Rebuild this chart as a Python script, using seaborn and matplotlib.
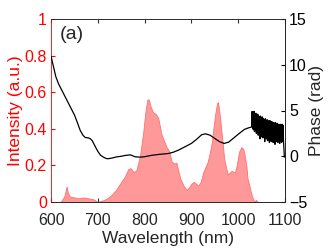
import numpy as np
import matplotlib
matplotlib.use("Agg")
import matplotlib.pyplot as plt
import seaborn as sns

# intensity spectrum (red area, left axis)
int_wl = [600, 620, 623, 628, 631, 633, 636, 640, 650, 660, 670, 680, 690, 697, 700,
          705, 712, 720, 730, 740, 750, 758, 765, 770, 776, 782, 790, 797, 802, 806,
          809, 813, 818, 824, 829, 836, 842, 847, 852, 858, 864, 868, 872, 876, 883,
          890, 895, 900, 905, 910, 915, 920, 925, 930, 935, 940, 944, 947, 951, 955,
          957, 960, 963, 967, 970, 974, 978, 982, 986, 990, 993, 997, 1002, 1007, 1011,
          1014, 1018, 1020, 1024, 1027, 1030, 1033, 1036, 1038, 1040, 1043, 1100]
int_val = [0, 0, 0.01, 0.03, 0.06, 0.085, 0.05, 0.03, 0.025, 0.02, 0.025, 0.02, 0.015, 0.005, 0,
           0.005, 0.01, 0.02, 0.04, 0.07, 0.11, 0.14, 0.18, 0.185, 0.165, 0.17, 0.25, 0.38, 0.5, 0.56,
           0.56, 0.52, 0.49, 0.48, 0.46, 0.37, 0.33, 0.30, 0.28, 0.22, 0.21, 0.215, 0.17, 0.13, 0.09,
           0.066, 0.08, 0.10, 0.11, 0.10, 0.09, 0.11, 0.16, 0.19, 0.22, 0.275, 0.33, 0.40, 0.48, 0.54,
           0.545, 0.49, 0.42, 0.32, 0.24, 0.19, 0.15, 0.16, 0.17, 0.165, 0.16, 0.2, 0.275, 0.30, 0.29,
           0.255, 0.19, 0.13, 0.09, 0.056, 0.03, 0.01, 0.005, 0.012, 0.005, 0.0, 0]

# spectral phase (black line, right axis)
ph_wl = [600, 605, 610, 616, 625, 633, 641, 650, 656, 662, 668, 673, 680, 684, 688,
         692, 697, 701, 706, 712, 718, 722, 730, 740, 750, 760, 770, 779, 790, 800,
         815, 830, 851, 862, 872, 885, 900, 910, 922, 930, 940, 950, 960, 970, 980,
         993, 1005, 1014, 1022, 1029,
         1030, 1031, 1032, 1033, 1034, 1035, 1036, 1037, 1038, 1039, 1040, 1041, 1042,
         1043, 1044, 1045, 1046, 1047, 1048, 1049, 1050, 1051, 1052, 1053, 1054, 1055,
         1056, 1057, 1058, 1059, 1060, 1061, 1062, 1063, 1064, 1065, 1066, 1067, 1068,
         1069, 1070, 1071, 1072, 1073, 1074, 1075, 1076, 1077, 1078, 1079, 1080, 1081,
         1082, 1083, 1084, 1085, 1086, 1087, 1088, 1089, 1090, 1091, 1092, 1093, 1094,
         1095, 1096, 1097, 1098, 1099]
ph_val = [10.9, 9.8, 8.7, 7.9, 7.0, 6.2, 5.4, 4.5, 3.7, 2.85, 2.3, 2.05, 2.0, 1.9, 1.7,
          1.3, 0.8, 0.45, 0.1, -0.1, -0.25, -0.27, -0.2, -0.07, 0.0, 0.1, 0.15, -0.05, -0.1, -0.05,
          0.1, 0.2, 0.3, 0.45, 0.66, 1.0, 1.4, 1.8, 2.35, 2.45, 2.3, 1.95, 1.6, 1.4, 1.55,
          2.1, 2.6, 2.95, 3.1, 3.2,
          4.9, 3.0, 4.8, 2.9, 4.9, 2.7, 4.6, 2.8, 4.7, 2.5, 4.5, 2.6, 4.6,
          2.3, 4.4, 2.5, 4.3, 1.9, 4.4, 2.3, 4.2, 2.1, 4.3, 2.0, 4.1, 2.2,
          4.0, 1.6, 4.1, 2.0, 3.9, 1.9, 4.0, 1.7, 3.9, 1.8, 3.8, 1.5, 3.9,
          1.7, 3.7, 1.6, 3.8, 1.7, 3.6, 1.5, 3.7, 1.6, 3.6, 1.3, 3.7, 1.6,
          3.5, 1.7, 3.6, 1.5, 3.5, 1.6, 3.4, 1.4, 3.5, 1.7, 3.4, 1.5, 3.5,
          1.6, 3.4, 1.8, 0.8, -0.1]

x_ticks = [600, 700, 800, 900, 1000, 1100]
int_ticks = [0, 0.2, 0.4, 0.6, 0.8, 1]
int_ticklabels = ["0", "0.2", "0.4", "0.6", "0.8", "1"]
ph_ticks = [-5, 0, 5, 10, 15]

sns.set_style("ticks")
plt.rcParams['font.family'] = ['Liberation Sans', 'DejaVu Sans']

fig = plt.figure(figsize=(3.32, 2.5), dpi=100)
ax = fig.add_axes([0.154, 0.192, 0.704, 0.732])

ax.fill_between(int_wl, int_val, 0, facecolor=(1, 0.6, 0.6), edgecolor='#ff7070', linewidth=0.6)
ax.set_xlim(600, 1100)
ax.set_ylim(0, 1)
ax.set_xticks(x_ticks)
ax.set_yticks(int_ticks)
ax.set_yticklabels(int_ticklabels)
ax.set_xlabel("Wavelength (nm)", fontsize=12.5, labelpad=2)
ax.set_ylabel("Intensity (a.u.)", fontsize=12.5, color='red', labelpad=1)
ax.tick_params(axis='x', direction='in', length=3, labelsize=11.5, pad=8, top=True, color='#333333')
ax.tick_params(axis='y', direction='in', length=3, labelsize=11.5, pad=3, colors='red')
ax.spines['left'].set_color('red')
ax.spines['top'].set_color('#555555')
ax.spines['bottom'].set_color('#333333')
for s in ax.spines.values():
    s.set_linewidth(0.6)
ax.text(0.035, 0.96, "(a)", transform=ax.transAxes, fontsize=14, va='top', ha='left')

ax2 = ax.twinx()
sns.lineplot(x=ph_wl, y=ph_val, ax=ax2, color='black', linewidth=0.9, estimator=None, sort=False)
ax2.set_ylim(-5, 15)
ax2.set_yticks(ph_ticks)
ax2.set_ylabel("Phase (rad)", fontsize=12.5, labelpad=1)
ax2.tick_params(axis='y', direction='in', length=3, labelsize=11.5, pad=3, colors='black')
for s in ax2.spines.values():
    s.set_linewidth(0.6)
ax2.spines['left'].set_visible(False)
ax2.spines['right'].set_color('#222222')
ax.set_xlim(600, 1100)

fig.savefig("out.png", dpi=100)
